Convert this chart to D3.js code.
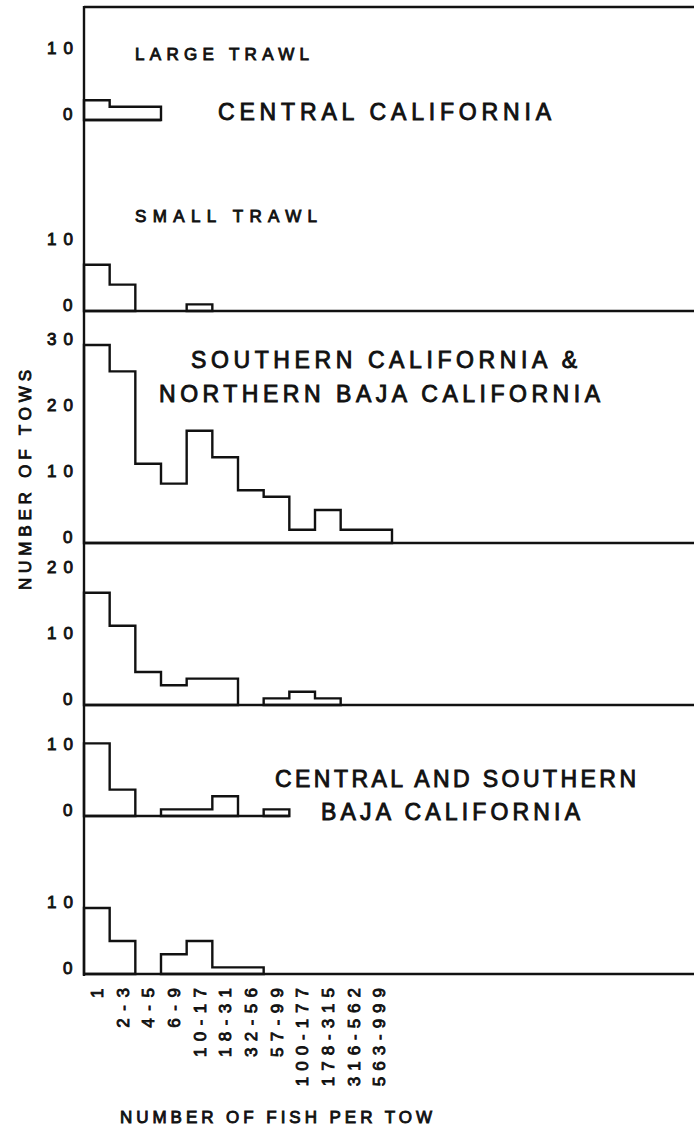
<!DOCTYPE html>
<html><head><meta charset="utf-8">
<script src="https://cdn.jsdelivr.net/npm/d3@7"></script>
<style>
html,body{margin:0;padding:0;background:#fff;}
svg{display:block;}
text{font-family:"Liberation Sans",Arial,sans-serif;fill:#111;stroke:#111;stroke-width:0.9px;}
</style></head>
<body>
<div id="chart"></div>
<script>
// ---- data ----
const bins = ["1","2-3","4-5","6-9","10-17","18-31","32-56","57-99","100-177","178-315","316-562","563-999"];
const centralLarge  = [3,2,2,0,0,0,0,0,0,0,0,0];
const centralSmall  = [7,4,0,0,1,0,0,0,0,0,0,0];
const southernLarge = [30,26,12,9,17,13,8,7,2,5,2,2];
const southernSmall = [17,12,5,3,4,4,0,1,2,1,0,0];
const bajaLarge     = [11,4,0,1,1,3,0,1,0,0,0,0];
const bajaSmall     = [10,5,0,3,5,1,1,0,0,0,0,0];
const ticksCentralLarge = [0,10];
const ticksCentralSmall = [0,10];
const ticksSouthernLarge = [0,10,20,30];
const ticksSouthernSmall = [0,10,20];
const ticksBajaLarge = [0,10];
const ticksBajaSmall = [0,10];

const W = 694, H = 1133;
const svg = d3.select("#chart").append("svg").attr("width", W).attr("height", H);

const axisX = 84, rightX = 694, topY = 7;
const x = d3.scaleBand().domain(bins).range([axisX, 392]).padding(0);
const bw = x.bandwidth();
const pxPerUnit = 6.6;

const panels = [
  {data: centralLarge,  base: 120, ticks: ticksCentralLarge,  full: false},
  {data: centralSmall,  base: 311, ticks: ticksCentralSmall,  full: true},
  {data: southernLarge, base: 543, ticks: ticksSouthernLarge, full: true},
  {data: southernSmall, base: 705, ticks: ticksSouthernSmall, full: true},
  {data: bajaLarge,     base: 816, ticks: ticksBajaLarge,     full: false},
  {data: bajaSmall,     base: 974, ticks: ticksBajaSmall,     full: true}
];

const lineW = 2.4;
svg.append("line").attr("x1", axisX).attr("x2", rightX).attr("y1", topY).attr("y2", topY)
  .attr("stroke", "#111").attr("stroke-width", lineW);
svg.append("line").attr("x1", axisX).attr("x2", axisX).attr("y1", topY - 1).attr("y2", 976)
  .attr("stroke", "#111").attr("stroke-width", lineW);

const lineGen = d3.line();

panels.forEach(p => {
  const y = d3.scaleLinear().domain([0, 10]).range([p.base, p.base - 10 * pxPerUnit]);
  const runs = [];
  let start = -1;
  p.data.forEach((v, i) => {
    if (v > 0 && start < 0) start = i;
    if ((v === 0 || i === p.data.length - 1) && start >= 0) {
      const end = v === 0 ? i - 1 : i;
      runs.push([start, end]);
      start = -1;
    }
  });
  let lastEdge = axisX;
  runs.forEach(([a, b]) => {
    const pts = [[x(bins[a]), y(0)]];
    for (let k = a; k <= b; k++) {
      pts.push([x(bins[k]), y(p.data[k])]);
      pts.push([x(bins[k]) + bw, y(p.data[k])]);
    }
    pts.push([x(bins[b]) + bw, y(0)]);
    lastEdge = x(bins[b]) + bw;
    svg.append("path").attr("d", lineGen(pts) + "Z")
      .attr("fill", "none").attr("stroke", "#111").attr("stroke-width", lineW)
      .attr("stroke-linejoin", "miter");
  });
  svg.append("line").attr("x1", axisX).attr("x2", p.full ? rightX : lastEdge)
    .attr("y1", y(0)).attr("y2", y(0)).attr("stroke", "#111").attr("stroke-width", lineW);
  p.ticks.forEach(t => {
    const s = String(t);
    const len = s.length === 1 ? 10 : 26;
    const cy = y(t) - 6;
    svg.append("text").attr("x", 73 - len).attr("y", cy).attr("dy", "0.358em")
      .attr("font-size", 17).attr("textLength", s.length > 1 ? len : null)
      .attr("lengthAdjust", "spacing").text(s);
  });
});

function label(str, x0, cy, len, size) {
  svg.append("text").attr("x", x0).attr("y", cy).attr("dy", "0.358em")
    .attr("font-size", size).attr("textLength", len).attr("lengthAdjust", "spacing").text(str);
}
label("LARGE TRAWL", 135, 54, 174, 17);
label("CENTRAL CALIFORNIA", 218, 112, 333, 23);
label("SMALL TRAWL", 135, 216, 182, 17);
label("SOUTHERN CALIFORNIA &", 191, 360, 386, 23);
label("NORTHERN BAJA CALIFORNIA", 159, 394, 441, 23);
label("CENTRAL AND SOUTHERN", 275, 779, 361, 23);
label("BAJA CALIFORNIA", 321, 812, 259, 23);
label("NUMBER OF FISH PER TOW", 120, 1117, 312, 17);

(function(){
  const len = 220, cx = 25, cy = 480;
  svg.append("text").attr("transform", `translate(${cx},${cy + len / 2}) rotate(-90)`)
    .attr("x", 0).attr("y", 0).attr("dy", "0.358em").attr("font-size", 17)
    .attr("textLength", len).attr("lengthAdjust", "spacing").text("NUMBER OF TOWS");
})();

bins.forEach(b => {
  const len = b.length === 1 ? null : b.length * 14.6 - 4;
  const L = len || 10;
  const cx = x(b) + bw / 2;
  svg.append("text").attr("transform", `translate(${cx},${988 + L}) rotate(-90)`)
    .attr("x", 0).attr("y", 0).attr("dy", "0.358em").attr("font-size", 17)
    .attr("textLength", len).attr("lengthAdjust", "spacing").text(b);
});
</script>
</body></html>
